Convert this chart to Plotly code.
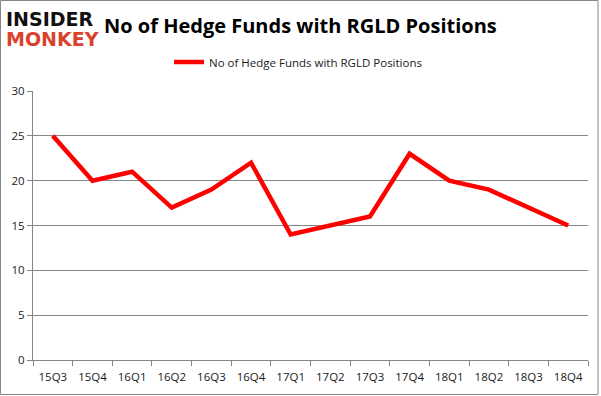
import plotly.graph_objects as go

quarters = ["15Q3", "15Q4", "16Q1", "16Q2", "16Q3", "16Q4", "17Q1", "17Q2",
            "17Q3", "17Q4", "18Q1", "18Q2", "18Q3", "18Q4"]
hedge_funds = [25, 20, 21, 17, 19, 22, 14, 15, 16, 23, 20, 19, 17, 15]
series_name = "No of Hedge Funds with RGLD Positions"
chart_title = "No of Hedge Funds with RGLD Positions"
y_ticks = [0, 5, 10, 15, 20, 25, 30]

W, H = 601, 396
ML, MR, MT, MB = 33, 13, 91, 36
PW, PH = W - ML - MR, H - MT - MB

def px_x(x):
    return (x - ML) / PW

def px_y(y):
    return (H - MB - y) / PH

fig = go.Figure()
fig.add_trace(go.Scatter(
    x=quarters, y=hedge_funds, mode="lines", name=series_name,
    line=dict(color="#ff0000", width=4.5),
))

fig.update_layout(
    width=W, height=H,
    margin=dict(l=ML, r=MR, t=MT, b=MB, autoexpand=False),
    paper_bgcolor="white", plot_bgcolor="white",
    font=dict(family="DejaVu Sans", color="#1a1a1a", size=11),
    showlegend=True,
    legend=dict(
        orientation="h", x=px_x(169), y=px_y(62), xanchor="left", yanchor="middle",
        font=dict(family="Open Sans", size=11.5, color="#1a1a1a"),
        itemwidth=30, bgcolor="rgba(0,0,0,0)",
    ),
    xaxis=dict(
        type="category", range=[-0.5, 13.5],
        showline=True, linecolor="#868686", linewidth=1,
        ticks="outside", tickson="boundaries", ticklen=5, tickcolor="#868686",
        ticklabelstandoff=6,
        showgrid=False, tickfont=dict(family="Open Sans", size=11.5, color="#1a1a1a"),
        fixedrange=True,
    ),
    yaxis=dict(
        range=[0, 30], tickvals=y_ticks,
        showline=True, linecolor="#868686", linewidth=1,
        ticks="outside", ticklen=5, tickcolor="#868686",
        showgrid=True, gridcolor="#868686", gridwidth=1,
        zeroline=False,
        tickfont=dict(family="Open Sans", size=11.5, color="#1a1a1a"),
        fixedrange=True,
    ),
)

fig.add_annotation(
    text="<b>" + chart_title + "</b>", xref="paper", yref="paper",
    x=px_x(300.5), y=px_y(25), xanchor="center", yanchor="middle",
    showarrow=False, font=dict(family="Open Sans", size=20, color="#000000"),
)
fig.add_annotation(
    text="<b>INSIDER</b>", xref="paper", yref="paper",
    x=px_x(4), y=px_y(19), xanchor="left", yanchor="middle",
    showarrow=False, font=dict(family="DejaVu Sans", size=19, color="#111111"),
)
fig.add_annotation(
    text="<b>MONKEY</b>", xref="paper", yref="paper",
    x=px_x(4), y=px_y(39), xanchor="left", yanchor="middle",
    showarrow=False, font=dict(family="DejaVu Sans", size=19, color="#d9432c"),
)
fig.add_shape(
    type="rect", xref="paper", yref="paper",
    x0=px_x(0.5), x1=px_x(598), y0=px_y(394.5), y1=px_y(0.5),
    line=dict(color="#868686", width=1), fillcolor="rgba(0,0,0,0)", layer="below",
)

fig.write_html(
    "out.html",
    config={"displayModeBar": False},
    post_script="document.body.style.margin='0';document.body.style.overflow='hidden';",
)
